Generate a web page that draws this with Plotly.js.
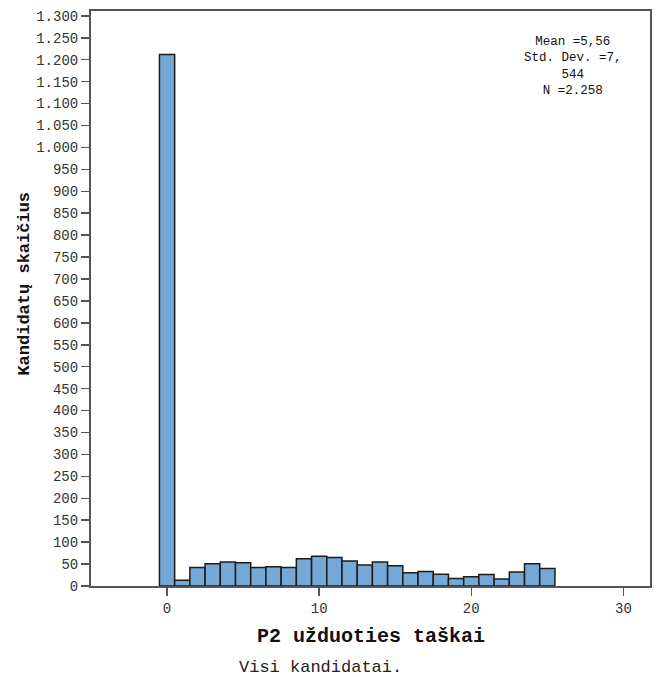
<!DOCTYPE html>
<html>
<head>
<meta charset="utf-8">
<script src="https://cdn.plot.ly/plotly-3.0.1.min.js"></script>
<style>
  html, body { margin: 0; padding: 0; background: #ffffff; }
  #chart { width: 656px; height: 677px; }
</style>
</head>
<body>
<div id="chart"></div>
<script>
// Histogram of task P2 scores (whole points), all candidates
const scores = [0, 1, 2, 3, 4, 5, 6, 7, 8, 9, 10, 11, 12, 13, 14, 15, 16, 17, 18, 19, 20, 21, 22, 23, 24, 25];
const counts = [1212, 13, 42, 51, 55, 53, 42, 44, 42, 62, 68, 65, 57, 48, 55, 46, 30, 33, 27, 17, 21, 26, 16, 32, 51, 40];

const xTicks = [0, 10, 20, 30];
const yTicks = [0, 50, 100, 150, 200, 250, 300, 350, 400, 450, 500, 550, 600, 650, 700,
                750, 800, 850, 900, 950, 1000, 1050, 1100, 1150, 1200, 1250, 1300];

const statsLines = ['Mean =5,56', 'Std. Dev. =7,', '544', 'N =2.258'];
const xTitle = 'P2 užduoties taškai';
const yTitle = 'Kandidatų skaičius';
const footnote = 'Visi kandidatai.';

const mono = 'Liberation Mono, Courier New, monospace';
const axisColor = '#555555';

const trace = {
  type: 'bar',
  x: scores,
  y: counts,
  width: 1,
  marker: {
    color: '#75a7d7',
    line: { color: '#1c1c1c', width: 1.5 }
  },
  hoverinfo: 'x+y'
};

const annotations = [];

// summary statistics block, top right
annotations.push({
  text: statsLines.join('<br>'),
  xref: 'paper', yref: 'paper',
  x: 0.862, y: 0.9035,
  xanchor: 'center', yanchor: 'middle',
  align: 'center',
  showarrow: false,
  font: { family: mono, size: 12.5, color: '#111111' }
});

annotations.push({
  text: '<b>' + xTitle + '</b>',
  xref: 'paper', yref: 'paper',
  x: 0.5, y: -0.087,
  xanchor: 'center', yanchor: 'middle',
  showarrow: false,
  font: { family: mono, size: 20, color: '#111111' }
});
annotations.push({
  text: '<b>' + yTitle + '</b>',
  xref: 'paper', yref: 'paper',
  x: -0.118, y: 0.526,
  xanchor: 'center', yanchor: 'middle',
  textangle: -90,
  showarrow: false,
  font: { family: mono, size: 17, color: '#111111' }
});
annotations.push({
  text: footnote,
  xref: 'paper', yref: 'paper',
  x: 0.261, y: -0.141,
  xanchor: 'left', yanchor: 'middle',
  showarrow: false,
  font: { family: mono, size: 17, color: '#222222' }
});

const layout = {
  width: 656,
  height: 677,
  margin: { l: 91, r: 6, t: 11, b: 91, pad: 0 },
  paper_bgcolor: '#ffffff',
  plot_bgcolor: '#ffffff',
  separators: ',.',
  showlegend: false,
  bargap: 0,
  font: { family: mono, color: '#333333' },
  xaxis: {
    range: [-5, 31.75],
    tickvals: xTicks,
    ticktext: xTicks.map(String),
    ticks: 'outside',
    ticklen: 8,
    tickwidth: 1.5,
    tickcolor: axisColor,
    showline: true,
    linecolor: axisColor,
    linewidth: 2,
    mirror: true,
    showgrid: false,
    zeroline: false,
    tickfont: { family: mono, size: 14, color: '#333333' }
  },
  yaxis: {
    range: [0, 1311],
    tickvals: yTicks,
    tickformat: ',d',
    ticks: 'outside',
    ticklen: 8,
    tickwidth: 1.5,
    tickcolor: axisColor,
    showline: true,
    linecolor: axisColor,
    linewidth: 2,
    mirror: true,
    showgrid: false,
    zeroline: false,
    tickfont: { family: mono, size: 14, color: '#333333' }
  },
  annotations: annotations
};

Plotly.newPlot('chart', [trace], layout, { displayModeBar: false, staticPlot: true });
</script>
</body>
</html>
